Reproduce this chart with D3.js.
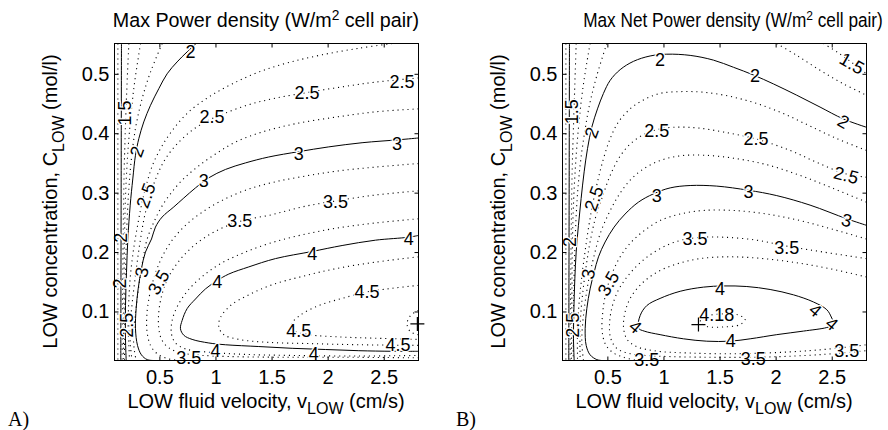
<!DOCTYPE html>
<html><head><meta charset="utf-8">
<script src="https://cdn.jsdelivr.net/npm/d3@7"></script>
<style>body{margin:0;background:#fff}</style>
</head><body>
<script>
// ---------- axes data ----------
const xTicks=[0.5,1,1.5,2,2.5];
const yTicks=[0.1,0.2,0.3,0.4,0.5];
const xDomain=[0.1,2.81];
const yDomain=[0.0175,0.551];

// ---------- Panel A: Max Power density contours [v, C] ----------
const A_c075=[[0.13,0.551],[0.13,0.0175]];
const A_c1=[[0.162,0.551],[0.159,0.279],[0.156,0.0175]];
const A_c125=[[0.228,0.551],[0.204,0.447],[0.186,0.335],[0.177,0.222],[0.171,0.110],[0.168,0.0175]];
const A_c15=[[0.332,0.551],[0.272,0.475],[0.228,0.391],[0.201,0.307],[0.189,0.222],[0.183,0.110],[0.180,0.0175]];
const A_c175=[[0.525,0.551],[0.421,0.503],[0.346,0.458],[0.287,0.408],[0.245,0.346],[0.219,0.279],[0.201,0.194],[0.192,0.110],[0.189,0.0175]];
const A_c2=[[0.828,0.551],[0.748,0.537],[0.658,0.520],[0.569,0.500],[0.495,0.475],[0.421,0.447],[0.361,0.419],[0.317,0.391],[0.287,0.363],[0.263,0.323],[0.240,0.279],[0.219,0.222],[0.207,0.166],[0.198,0.110],[0.198,0.054],[0.204,0.0175]];
const A_c225=[[2.575,0.551],[2.278,0.543],[1.951,0.532],[1.654,0.519],[1.386,0.503],[1.149,0.483],[0.941,0.461],[0.762,0.436],[0.629,0.408],[0.525,0.379],[0.445,0.349],[0.391,0.318],[0.346,0.284],[0.311,0.250],[0.275,0.211],[0.245,0.166],[0.228,0.121],[0.222,0.077],[0.228,0.043],[0.234,0.0175]];
const A_c25=[[2.81,0.493],[2.426,0.486],[2.129,0.478],[1.832,0.469],[1.535,0.459],[1.297,0.448],[1.089,0.434],[0.941,0.422],[0.792,0.405],[0.658,0.382],[0.554,0.357],[0.480,0.329],[0.421,0.298],[0.370,0.262],[0.332,0.222],[0.299,0.178],[0.269,0.133],[0.240,0.077],[0.242,0.043],[0.257,0.0175]];
const A_c275=[[2.81,0.441],[2.426,0.436],[2.070,0.427],[1.713,0.416],[1.416,0.402],[1.178,0.385],[1.000,0.365],[0.837,0.343],[0.703,0.321],[0.599,0.298],[0.519,0.276],[0.450,0.250],[0.391,0.222],[0.355,0.189],[0.326,0.155],[0.302,0.121],[0.281,0.088],[0.269,0.060],[0.275,0.037],[0.293,0.0175]];
const A_c3=[[2.81,0.392],[2.634,0.389],[2.307,0.384],[2.010,0.377],[1.743,0.369],[1.475,0.360],[1.267,0.350],[1.089,0.339],[0.941,0.325],[0.822,0.308],[0.718,0.291],[0.629,0.276],[0.525,0.259],[0.465,0.242],[0.430,0.222],[0.376,0.200],[0.340,0.172],[0.311,0.138],[0.293,0.105],[0.287,0.071],[0.305,0.043],[0.340,0.027],[0.391,0.019],[0.450,0.0175]];
const A_c325=[[2.81,0.349],[2.426,0.343],[2.070,0.336],[1.773,0.327],[1.505,0.317],[1.267,0.304],[1.060,0.287],[0.881,0.267],[0.733,0.245],[0.614,0.220],[0.525,0.192],[0.459,0.161],[0.412,0.127],[0.388,0.093],[0.391,0.065],[0.421,0.043],[0.480,0.029],[0.569,0.021],[0.673,0.0175]];
const A_c35=[[2.81,0.303],[2.426,0.296],[2.070,0.286],[1.773,0.276],[1.505,0.263],[1.223,0.252],[1.000,0.235],[0.822,0.213],[0.688,0.188],[0.584,0.159],[0.525,0.130],[0.495,0.099],[0.495,0.071],[0.525,0.051],[0.599,0.037],[0.733,0.029],[1.000,0.025],[1.535,0.023],[2.129,0.023],[2.81,0.022]];
const A_c375=[[2.81,0.256],[2.426,0.249],[2.070,0.240],[1.773,0.229],[1.505,0.216],[1.267,0.200],[1.060,0.182],[0.896,0.161],[0.762,0.137],[0.667,0.111],[0.614,0.085],[0.608,0.062],[0.644,0.047],[0.733,0.037],[0.911,0.032],[1.238,0.028],[1.684,0.026],[2.278,0.025],[2.81,0.026]];
const A_c4=[[2.81,0.228],[2.723,0.225],[2.426,0.220],[2.129,0.211],[1.862,0.201],[1.535,0.189],[1.297,0.175],[1.119,0.163],[1.015,0.152],[0.911,0.138],[0.822,0.121],[0.748,0.105],[0.703,0.085],[0.688,0.071],[0.718,0.060],[0.792,0.053],[0.941,0.047],[1.089,0.044],[1.386,0.041],[1.684,0.038],[1.980,0.036],[2.278,0.034],[2.575,0.033],[2.81,0.033]];
const A_c425=[[2.81,0.192],[2.426,0.183],[2.070,0.172],[1.773,0.159],[1.505,0.145],[1.297,0.128],[1.134,0.110],[1.045,0.090],[1.030,0.074],[1.074,0.061],[1.208,0.053],[1.475,0.048],[1.832,0.046],[2.278,0.044],[2.81,0.043]];
const A_c45=[[2.81,0.144],[2.575,0.139],[2.352,0.133],[2.129,0.122],[1.921,0.110],[1.758,0.094],[1.678,0.079],[1.698,0.068],[1.832,0.061],[2.129,0.057],[2.426,0.055],[2.81,0.053]];
const A_c475=[[2.81,0.102],[2.738,0.093],[2.708,0.079],[2.738,0.066],[2.81,0.061]];
const A_max=[2.8,0.079];
const A_labels=[["2",0.777,0.537,0],["2.5",2.664,0.486,0],["2.5",1.817,0.468,0],["2.5",0.970,0.427,0],
 ["1.5",0.192,0.434,-90],["2",0.302,0.369,-70],["3",2.619,0.382,0],["3",1.743,0.365,0],["3",0.896,0.319,0],
 ["2.5",0.382,0.295,-70],["3.5",2.070,0.285,0],["3.5",1.217,0.253,0],["2",0.162,0.224,-90],["4",2.723,0.222,0],
 ["4",1.862,0.197,0],["3",0.346,0.166,-80],["2",0.153,0.147,-90],["4",1.015,0.150,0],["3.5",0.495,0.149,-60],
 ["4.5",2.352,0.133,0],["2.5",0.213,0.077,-90],["4.5",1.743,0.067,0],["4",1.000,0.034,0],["4.5",2.628,0.044,0],
 ["3.5",0.762,0.021,0],["4",1.876,0.029,0]];

// ---------- Panel B: Max Net Power density contours ----------
const B_c075=[[0.13,0.551],[0.13,0.0175]];
const B_c1=[[0.162,0.551],[0.159,0.279],[0.156,0.0175]];
const B_c125=[[0.222,0.551],[0.204,0.447],[0.186,0.335],[0.177,0.222],[0.171,0.110],[0.168,0.0175]];
const B_c15=[[0.346,0.551],[0.281,0.475],[0.234,0.391],[0.204,0.307],[0.189,0.222],[0.183,0.110],[0.180,0.0175]];
const B_c15b=[[2.426,0.551],[2.545,0.537],[2.679,0.519],[2.81,0.500]];
const B_c175=[[0.495,0.551],[0.406,0.497],[0.340,0.447],[0.293,0.396],[0.257,0.346],[0.231,0.290],[0.213,0.222],[0.201,0.138],[0.195,0.0175]];
const B_c175b=[[2.010,0.551],[2.188,0.531],[2.396,0.506],[2.604,0.483],[2.81,0.464]];
const B_c2=[[2.81,0.410],[2.604,0.424],[2.396,0.444],[2.188,0.464],[1.980,0.483],[1.802,0.498],[1.624,0.511],[1.446,0.523],[1.238,0.531],[1.030,0.533],[0.881,0.530],[0.733,0.521],[0.614,0.507],[0.525,0.489],[0.465,0.467],[0.412,0.441],[0.361,0.410],[0.323,0.374],[0.293,0.335],[0.266,0.290],[0.242,0.245],[0.222,0.200],[0.210,0.155],[0.201,0.099],[0.198,0.054],[0.204,0.0175]];
const B_c225=[[2.81,0.371],[2.545,0.391],[2.307,0.412],[2.070,0.433],[1.832,0.450],[1.594,0.462],[1.357,0.469],[1.149,0.470],[0.970,0.467],[0.822,0.456],[0.703,0.441],[0.599,0.419],[0.525,0.391],[0.465,0.357],[0.412,0.318],[0.361,0.273],[0.317,0.222],[0.281,0.172],[0.251,0.121],[0.234,0.071],[0.234,0.0175]];
const B_c25=[[2.81,0.326],[2.619,0.332],[2.367,0.351],[2.129,0.371],[1.832,0.390],[1.535,0.402],[1.297,0.409],[1.089,0.410],[0.941,0.406],[0.807,0.396],[0.688,0.379],[0.599,0.357],[0.525,0.329],[0.465,0.298],[0.400,0.262],[0.346,0.217],[0.308,0.172],[0.278,0.127],[0.257,0.077],[0.257,0.0175]];
const B_c275=[[2.81,0.284],[2.515,0.307],[2.218,0.329],[1.921,0.347],[1.624,0.358],[1.357,0.363],[1.149,0.362],[0.970,0.354],[0.822,0.340],[0.703,0.321],[0.599,0.295],[0.510,0.264],[0.436,0.231],[0.382,0.194],[0.335,0.155],[0.302,0.116],[0.281,0.082],[0.272,0.048],[0.287,0.0175]];
const B_c3=[[2.81,0.245],[2.634,0.256],[2.307,0.279],[2.010,0.295],[1.758,0.304],[1.475,0.311],[1.238,0.312],[1.060,0.308],[0.911,0.298],[0.777,0.284],[0.658,0.264],[0.560,0.242],[0.480,0.217],[0.421,0.192],[0.382,0.166],[0.346,0.138],[0.317,0.105],[0.302,0.071],[0.311,0.043],[0.346,0.027],[0.406,0.019],[0.450,0.0175]];
const B_c325=[[2.81,0.222],[2.515,0.238],[2.218,0.253],[1.921,0.264],[1.624,0.270],[1.357,0.270],[1.149,0.264],[0.970,0.253],[0.828,0.236],[0.709,0.216],[0.614,0.192],[0.540,0.163],[0.489,0.133],[0.459,0.099],[0.453,0.068],[0.480,0.046],[0.540,0.032],[0.644,0.023],[0.762,0.0175]];
const B_c35=[[2.81,0.189],[2.426,0.200],[2.099,0.210],[1.832,0.220],[1.535,0.225],[1.282,0.224],[1.089,0.216],[0.926,0.201],[0.792,0.182],[0.679,0.159],[0.593,0.134],[0.540,0.106],[0.519,0.078],[0.531,0.054],[0.584,0.038],[0.703,0.029],[0.941,0.025],[1.386,0.023],[1.832,0.023],[2.278,0.026],[2.575,0.030],[2.81,0.034]];
const B_c375=[[2.81,0.158],[2.485,0.172],[2.188,0.182],[1.891,0.189],[1.594,0.192],[1.327,0.189],[1.119,0.180],[0.941,0.166],[0.807,0.147],[0.709,0.124],[0.658,0.099],[0.644,0.074],[0.673,0.054],[0.748,0.042],[0.911,0.034],[1.238,0.030],[1.684,0.029],[2.129,0.032],[2.485,0.037],[2.81,0.044]];
const B_c4=[[0.777,0.072],[0.792,0.093],[0.852,0.110],[0.970,0.122],[1.149,0.134],[1.357,0.141],[1.535,0.143],[1.743,0.142],[1.951,0.137],[2.159,0.128],[2.337,0.116],[2.456,0.103],[2.500,0.089],[2.521,0.078],[2.456,0.073],[2.248,0.067],[2.010,0.061],[1.773,0.054],[1.594,0.050],[1.386,0.050],[1.178,0.054],[0.970,0.061],[0.828,0.067],[0.777,0.072]];
const B_c415=[[1.327,0.083],[1.386,0.092],[1.535,0.096],[1.668,0.094],[1.728,0.087],[1.684,0.078],[1.535,0.074],[1.386,0.075],[1.327,0.083]];
const B_max=[1.312,0.078];
const B_labels=[["2",0.970,0.523,0],["2",1.817,0.497,0],["2",2.604,0.419,30],["1.5",2.679,0.517,30],
 ["1.5",0.183,0.436,-90],["2",0.361,0.401,-70],["2.5",0.941,0.403,0],["2.5",1.826,0.390,0],["2.5",2.628,0.329,15],
 ["2.5",0.382,0.290,-70],["3",0.941,0.295,0],["3",1.758,0.301,0],["3",2.634,0.253,15],["2",0.168,0.217,-90],
 ["3.5",1.282,0.222,0],["3.5",2.099,0.207,0],["3",0.332,0.163,-80],["3.5",0.510,0.147,-60],["4",1.505,0.138,0],
 ["4",2.352,0.102,40],["4",2.500,0.079,40],["4",0.748,0.074,40],["4.18",1.475,0.094,0],["4",1.600,0.050,0],
 ["2.5",0.198,0.077,-90],["3.5",0.852,0.019,0],["3.5",1.800,0.020,0],["3.5",2.634,0.034,0]];

const panels=[
 {id:"A",left:114,tag:"A)",title:"Max Power density (W/m",titleX:266,titleSize:19.7,titleLen:null,
  lines:[[0.75,A_c075],[1,A_c1],[1.25,A_c125],[1.5,A_c15],[1.75,A_c175],[2,A_c2],[2.25,A_c225],[2.5,A_c25],[2.75,A_c275],[3,A_c3],[3.25,A_c325],[3.5,A_c35],[3.75,A_c375],[4,A_c4],[4.25,A_c425],[4.5,A_c45],[4.75,A_c475]],
  labels:A_labels,max:A_max},
 {id:"B",left:562,tag:"B)",title:"Max Net Power density (W/m",titleX:733,titleSize:19.5,titleLen:300,
  lines:[[0.75,B_c075],[1,B_c1],[1.25,B_c125],[1.5,B_c15],[1.5,B_c15b],[1.75,B_c175],[1.75,B_c175b],[2,B_c2],[2.25,B_c225],[2.5,B_c25],[2.75,B_c275],[3,B_c3],[3.25,B_c325],[3.5,B_c35],[3.75,B_c375],[4,B_c4],[4.15,B_c415]],
  labels:B_labels,max:B_max}
];

const FONT="'Liberation Sans', Arial, Helvetica, sans-serif";
const svg=d3.select("body").append("svg").attr("width",888).attr("height",430);
const PW=304, TOP=43, BOT=360;

panels.forEach(p=>{
  const g=svg.append("g").attr("transform","translate(0.5,0.5)");
  const x=d3.scaleLinear().domain(xDomain).range([p.left,p.left+PW]);
  const y=d3.scaleLinear().domain(yDomain).range([BOT,TOP]);
  const cid="clip"+p.id;
  g.append("clipPath").attr("id",cid).append("rect")
    .attr("x",p.left).attr("y",TOP).attr("width",PW).attr("height",BOT-TOP);
  const lineOpen=d3.line().x(d=>x(d[0])).y(d=>y(d[1])).curve(d3.curveCatmullRom.alpha(0.5));
  const lineClosed=d3.line().x(d=>x(d[0])).y(d=>y(d[1])).curve(d3.curveCatmullRomClosed.alpha(0.5));
  const cg=g.append("g").attr("clip-path",`url(#${cid})`);
  p.lines.forEach(([lev,pts])=>{
    const f=pts[0], l=pts[pts.length-1];
    const closed=f[0]===l[0]&&f[1]===l[1];
    const solid=Number.isInteger(lev);
    cg.append("path")
      .attr("d",closed?lineClosed(pts.slice(0,-1)):lineOpen(pts))
      .attr("fill","none").attr("stroke","#000")
      .attr("stroke-width",solid?1:1.1)
      .attr("stroke-dasharray",solid?null:"1.1,3.9");
  });
  // contour labels
  const lg=g.append("g").attr("font-family",FONT).attr("font-size",18);
  p.labels.forEach(([t,vx,vy,rot])=>{
    lg.append("text").attr("x",x(vx)).attr("y",y(vy))
      .attr("text-anchor","middle").attr("dominant-baseline","central")
      .attr("transform",rot?`rotate(${rot},${x(vx)},${y(vy)})`:null)
      .attr("stroke","#fff").attr("stroke-width",2.5).attr("paint-order","stroke")
      .attr("fill","#000").text(t);
  });
  // maximum marker
  const mx=x(p.max[0]), my=y(p.max[1]);
  g.append("path").attr("d",`M${mx-7},${my}H${mx+7}M${mx},${my-7}V${my+7}`)
    .attr("stroke","#000").attr("stroke-width",1.2);
  // axes with inward ticks
  const fmt=d3.format("");
  const style=sel=>{sel.select(".domain").remove();sel.attr("font-family",FONT).attr("font-size",20);
    sel.selectAll("text").attr("fill","#000");sel.selectAll("line").attr("stroke","#000");};
  g.append("g").attr("transform",`translate(0,${BOT})`)
    .call(d3.axisBottom(x).tickValues(xTicks).tickSize(-4).tickPadding(9).tickFormat(fmt)).call(style);
  g.append("g").attr("transform",`translate(0,${TOP})`)
    .call(d3.axisTop(x).tickValues(xTicks).tickSize(-4).tickFormat("")).call(style);
  g.append("g").attr("transform",`translate(${p.left},0)`)
    .call(d3.axisLeft(y).tickValues(yTicks).tickSize(-4).tickPadding(5).tickFormat(fmt)).call(style);
  g.append("g").attr("transform",`translate(${p.left+PW},0)`)
    .call(d3.axisRight(y).tickValues(yTicks).tickSize(-4).tickFormat("")).call(style);
  g.append("rect").attr("x",p.left).attr("y",TOP).attr("width",PW).attr("height",BOT-TOP)
    .attr("fill","none").attr("stroke","#000");
  // title (horizontally scaled to its measured width in the reference when needed)
  const tg=svg.append("g");
  const tt=tg.append("text").attr("x",0).attr("y",0).attr("text-anchor","middle")
    .attr("font-family",FONT).attr("font-size",p.titleSize).attr("fill","#000");
  tt.append("tspan").text(p.title);
  tt.append("tspan").attr("dy",-7).attr("font-size",p.titleSize*0.7).text("2");
  tt.append("tspan").attr("dy",7).text(" cell pair)");
  let sx=1;
  if(p.titleLen){ const w=tt.node().getBBox().width; if(w>0) sx=p.titleLen/w; }
  tg.attr("transform",`translate(${p.titleX},27) scale(${sx},1)`);
  // x label
  const cx=p.left+PW/2;
  const xl=svg.append("text").attr("x",cx).attr("y",408).attr("text-anchor","middle")
    .attr("font-family",FONT).attr("font-size",20).attr("fill","#000");
  xl.append("tspan").text("LOW fluid velocity, v");
  xl.append("tspan").attr("dy",6).attr("font-size",16).text("LOW");
  xl.append("tspan").attr("dy",-6).text(" (cm/s)");
  // y label
  const yl=svg.append("text").attr("transform",`translate(${p.left-57},201.5) rotate(-90)`)
    .attr("text-anchor","middle").attr("font-family",FONT).attr("font-size",20).attr("fill","#000");
  yl.append("tspan").text("LOW concentration, C");
  yl.append("tspan").attr("dy",7).attr("font-size",16).text("LOW");
  yl.append("tspan").attr("dy",-7).text(" (mol/l)");
  // panel tag
  svg.append("text").attr("x",p.left-106).attr("y",426).attr("font-family","'Liberation Serif', 'Times New Roman', serif")
    .attr("font-size",20).attr("fill","#000").text(p.tag);
});
</script>
</body></html>
